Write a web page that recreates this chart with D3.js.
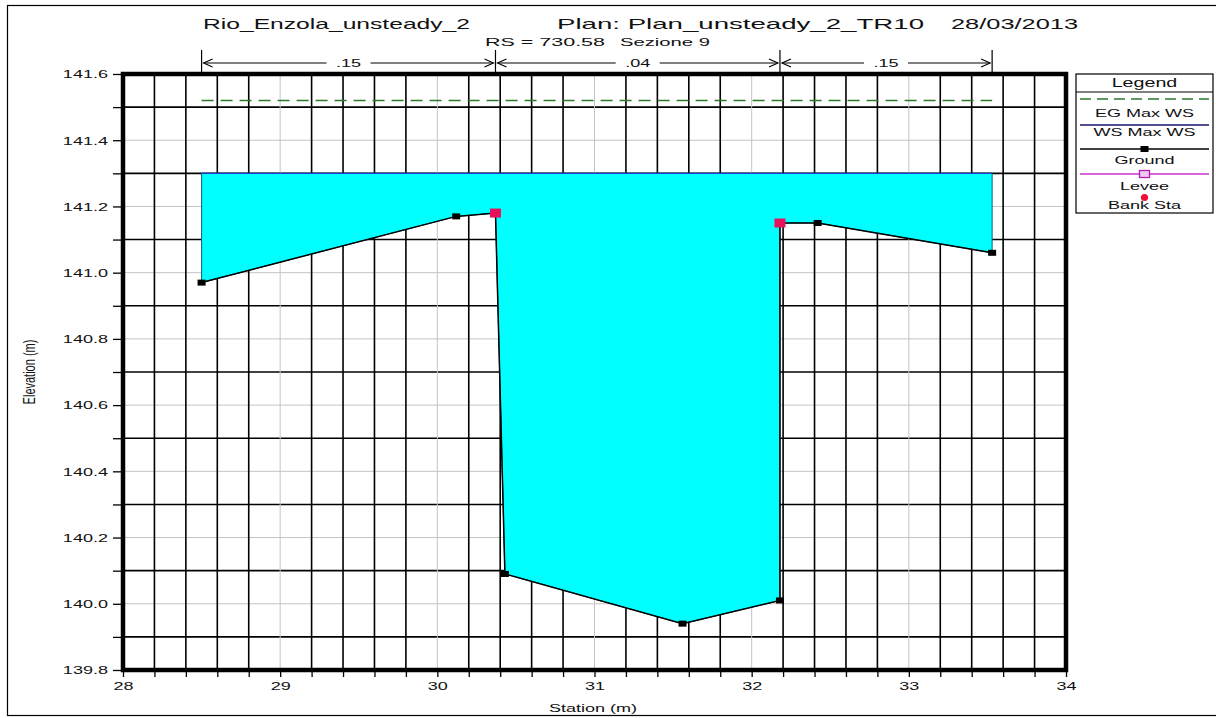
<!DOCTYPE html>
<html>
<head>
<meta charset="utf-8">
<script src="https://cdn.jsdelivr.net/npm/d3@7"></script>
<style>
  body { margin: 0; background: #fff; }
  text { font-family: "Liberation Sans", Arial, sans-serif; fill: #111; }
</style>
</head>
<body>
<div id="chart"></div>
<script>
// cross section data (station m, elevation m)
const stations = [28.50, 30.12, 30.37, 30.43, 31.56, 32.18, 32.18, 32.42, 33.53];
const groundElev = [140.97, 141.17, 141.18, 140.09, 139.94, 140.01, 141.15, 141.15, 141.06];
const bankStations = [30.37, 32.18];
const bankElev = [141.18, 141.15];
const wsElev = 141.30;
const egElev = 141.52;
const manningBreaks = [28.50, 30.37, 32.18, 33.53];
const manningN = [".15", ".04", ".15"];
const xTicks = [28, 29, 30, 31, 32, 33, 34];
const yTicks = [139.8, 140.0, 140.2, 140.4, 140.6, 140.8, 141.0, 141.2, 141.4, 141.6];
const legendLabels = ["EG Max WS", "WS Max WS", "Ground", "Levee", "Bank Sta"];

const W = 1216, H = 718;
const SX = 1.64; // the picture is stretched sideways, text too
const plot = { left: 123, right: 1066, top: 74, bottom: 670 };

const svg = d3.select("#chart").append("svg")
  .attr("width", W).attr("height", H);

// outer frame
svg.append("rect")
  .attr("x", 7.5).attr("y", 5.5).attr("width", 1300).attr("height", 710)
  .attr("fill", "none").attr("stroke", "#000").attr("stroke-width", 1.2);

const x = d3.scaleLinear().domain([28, 34]).range([plot.left, plot.right]);
const y = d3.scaleLinear().domain([139.8, 141.6]).range([plot.bottom, plot.top]);

function wtext(g, px, py, str, size, anchor) {
  return g.append("text")
    .attr("transform", `translate(${px},${py}) scale(${SX},1)`)
    .attr("text-anchor", anchor || "middle")
    .style("font-size", size + "px")
    .text(str);
}

// text squeezed into a fixed span, for the heading lines
function spanText(px0, px1, py, str, size) {
  return svg.append("text")
    .attr("x", px0).attr("y", py)
    .attr("textLength", px1 - px0).attr("lengthAdjust", "spacingAndGlyphs")
    .style("font-size", size + "px")
    .text(str);
}

// grid: minor lines black, major (labelled) lines light grey
const yGrid = d3.range(0, 19).map(i => ({ v: 139.8 + i * 0.1, major: i % 2 === 0 }));
const xGrid = d3.range(0, 31).map(i => ({ v: 28 + i * 0.2, major: i % 5 === 0 }));

const grid = svg.append("g");
grid.selectAll(".hg").data(yGrid).join("line")
  .attr("x1", plot.left).attr("x2", plot.right)
  .attr("y1", d => y(d.v)).attr("y2", d => y(d.v))
  .attr("stroke", d => d.major ? "#c4c4c4" : "#000")
  .attr("stroke-width", d => d.major ? 1 : 1.6);
grid.selectAll(".vg").data(xGrid).join("line")
  .attr("y1", plot.top).attr("y2", plot.bottom)
  .attr("x1", d => x(d.v)).attr("x2", d => x(d.v))
  .attr("stroke", d => d.major ? "#c4c4c4" : "#000")
  .attr("stroke-width", d => d.major ? 1 : 1.6);

// water area between ground and water surface
const groundPts = stations.map((s, i) => [s, groundElev[i]]);
const waterPts = [[stations[0], wsElev], [stations[stations.length - 1], wsElev]]
  .concat(groundPts.slice().reverse());
const line = d3.line().x(d => x(d[0])).y(d => y(d[1]));

svg.append("path")
  .attr("d", line(waterPts) + "Z")
  .attr("fill", "#00ffff")
  .attr("stroke", "#0b5f7a").attr("stroke-width", 1);

// water surface
svg.append("line")
  .attr("x1", x(stations[0])).attr("x2", x(stations[stations.length - 1]))
  .attr("y1", y(wsElev)).attr("y2", y(wsElev))
  .attr("stroke", "#1e40c8").attr("stroke-width", 1.2);

// energy grade
svg.append("line")
  .attr("x1", x(stations[0])).attr("x2", x(stations[stations.length - 1]))
  .attr("y1", y(egElev)).attr("y2", y(egElev))
  .attr("stroke", "#2a7a2a").attr("stroke-width", 1.4)
  .attr("stroke-dasharray", "12,7");

// ground
svg.append("path")
  .attr("d", line(groundPts))
  .attr("fill", "none").attr("stroke", "#000").attr("stroke-width", 1.5);

svg.selectAll(".gpt").data(groundPts).join("rect")
  .attr("x", d => x(d[0]) - 4).attr("y", d => y(d[1]) - 3)
  .attr("width", 8).attr("height", 6).attr("fill", "#000");

// bank stations
svg.selectAll(".bank").data(bankStations).join("rect")
  .attr("x", d => x(d) - 5.5).attr("y", (d, i) => y(bankElev[i]) - 4.5)
  .attr("width", 11).attr("height", 9).attr("fill", "#e8115b");

// axes
const yAll = d3.range(0, 19).map(i => +(139.8 + i * 0.1).toFixed(1));
const yAxis = svg.append("g").attr("transform", `translate(${plot.left},0)`)
  .call(d3.axisLeft(y).tickValues(yAll).tickSize(10).tickSizeOuter(0)
    .tickFormat(d => yTicks.some(t => Math.abs(t - d) < 1e-6) ? d.toFixed(1) : ""));
yAxis.select(".domain").remove();
yAxis.selectAll("line").attr("stroke", "#000").attr("stroke-width", 1.3);
yAxis.selectAll("text")
  .attr("x", -15 / SX).attr("dy", "0.35em")
  .attr("transform", `scale(${SX},1)`)
  .style("font-size", "11px").style("font-family", "Liberation Sans, Arial, sans-serif")
  .attr("fill", "#111");

const xAll = d3.range(0, 31).map(i => +(28 + i * 0.2).toFixed(1));
const xAxis = svg.append("g").attr("transform", `translate(0,${plot.bottom})`)
  .call(d3.axisBottom(x).tickValues(xAll).tickSize(7).tickSizeOuter(0)
    .tickFormat(d => xTicks.includes(d) ? String(d) : ""));
xAxis.select(".domain").remove();
xAxis.selectAll("line").attr("stroke", "#000").attr("stroke-width", 1.3);
xAxis.selectAll("text")
  .attr("y", 12).attr("dy", "0.71em").attr("x", 0)
  .attr("transform", `scale(${SX},1)`)
  .style("font-size", "11px").style("font-family", "Liberation Sans, Arial, sans-serif")
  .attr("fill", "#111");

// thick plot frame
svg.append("rect")
  .attr("x", plot.left).attr("y", plot.top)
  .attr("width", plot.right - plot.left).attr("height", plot.bottom - plot.top)
  .attr("fill", "none").attr("stroke", "#000").attr("stroke-width", 4.5);

// axis titles
wtext(svg, 593, 712, "Station (m)", 11);
svg.append("text")
  .attr("transform", "translate(35,372) scale(1.5,1) rotate(-90)")
  .attr("text-anchor", "middle")
  .style("font-size", "11px")
  .text("Elevation (m)");

// titles
spanText(203, 470, 29, "Rio_Enzola_unsteady_2", 15);
spanText(557, 924, 29, "Plan: Plan_unsteady_2_TR10", 15);
spanText(951, 1078, 29, "28/03/2013", 15);
spanText(485, 605, 46, "RS = 730.58", 11);
spanText(620, 710, 46, "Sezione 9", 11);

// Manning n regions
const mg = svg.append("g");
const arrowY = 63;
manningBreaks.forEach(b => {
  mg.append("line")
    .attr("x1", x(b)).attr("x2", x(b)).attr("y1", 50).attr("y2", plot.top)
    .attr("stroke", "#000").attr("stroke-width", 1.2);
});
manningN.forEach((n, i) => {
  const x0 = x(manningBreaks[i]) + 2, x1 = x(manningBreaks[i + 1]) - 2;
  const mid = (x0 + x1) / 2;
  const half = 22;
  [[x0, mid - half], [mid + half, x1]].forEach(s => {
    mg.append("line").attr("x1", s[0]).attr("x2", s[1])
      .attr("y1", arrowY).attr("y2", arrowY)
      .attr("stroke", "#000").attr("stroke-width", 1.2);
  });
  // open arrow heads pointing at the break lines
  mg.append("path").attr("d", `M${x0 + 9},${arrowY - 4}L${x0},${arrowY}L${x0 + 9},${arrowY + 4}`)
    .attr("fill", "none").attr("stroke", "#000").attr("stroke-width", 1.1);
  mg.append("path").attr("d", `M${x1 - 9},${arrowY - 4}L${x1},${arrowY}L${x1 - 9},${arrowY + 4}`)
    .attr("fill", "none").attr("stroke", "#000").attr("stroke-width", 1.1);
  wtext(mg, mid, arrowY + 4, n, 11);
});

// legend
const lg = svg.append("g");
const lx = 1076, ly = 74, lw = 137, lh = 139, lcx = lx + lw / 2;
lg.append("rect").attr("x", lx).attr("y", ly).attr("width", lw).attr("height", lh)
  .attr("fill", "#fff").attr("stroke", "#000").attr("stroke-width", 1.2);
lg.append("line").attr("x1", lx).attr("x2", lx + lw).attr("y1", 92).attr("y2", 92)
  .attr("stroke", "#000").attr("stroke-width", 1.2);
wtext(lg, lcx, 87, "Legend", 12);

const sampleL = lx + 4, sampleR = lx + lw - 4;
// EG sample
lg.append("line").attr("x1", sampleL).attr("x2", sampleR).attr("y1", 99).attr("y2", 99)
  .attr("stroke", "#2a7a2a").attr("stroke-width", 1.3).attr("stroke-dasharray", "11,6");
wtext(lg, lcx, 117, legendLabels[0], 11);
// WS sample
lg.append("line").attr("x1", sampleL).attr("x2", sampleR).attr("y1", 125).attr("y2", 125)
  .attr("stroke", "#14146e").attr("stroke-width", 1.3);
wtext(lg, lcx, 136, legendLabels[1], 11);
// Ground sample
lg.append("line").attr("x1", sampleL).attr("x2", sampleR).attr("y1", 149).attr("y2", 149)
  .attr("stroke", "#000").attr("stroke-width", 1.3);
lg.append("rect").attr("x", lcx - 4).attr("y", 146).attr("width", 8).attr("height", 6).attr("fill", "#000");
wtext(lg, lcx, 164, legendLabels[2], 11);
// Levee sample
lg.append("line").attr("x1", sampleL).attr("x2", sampleR).attr("y1", 174).attr("y2", 174)
  .attr("stroke", "#cc33cc").attr("stroke-width", 1.3);
lg.append("rect").attr("x", lcx - 5).attr("y", 170.5).attr("width", 10).attr("height", 7)
  .attr("fill", "#f4c8f4").attr("stroke", "#b020b0").attr("stroke-width", 1.3);
wtext(lg, lcx, 190, legendLabels[3], 11);
// Bank station sample
lg.append("circle").attr("cx", lcx).attr("cy", 197.5).attr("r", 3.6).attr("fill", "#ee1133");
wtext(lg, lcx, 209, legendLabels[4], 11);
</script>
</body>
</html>
